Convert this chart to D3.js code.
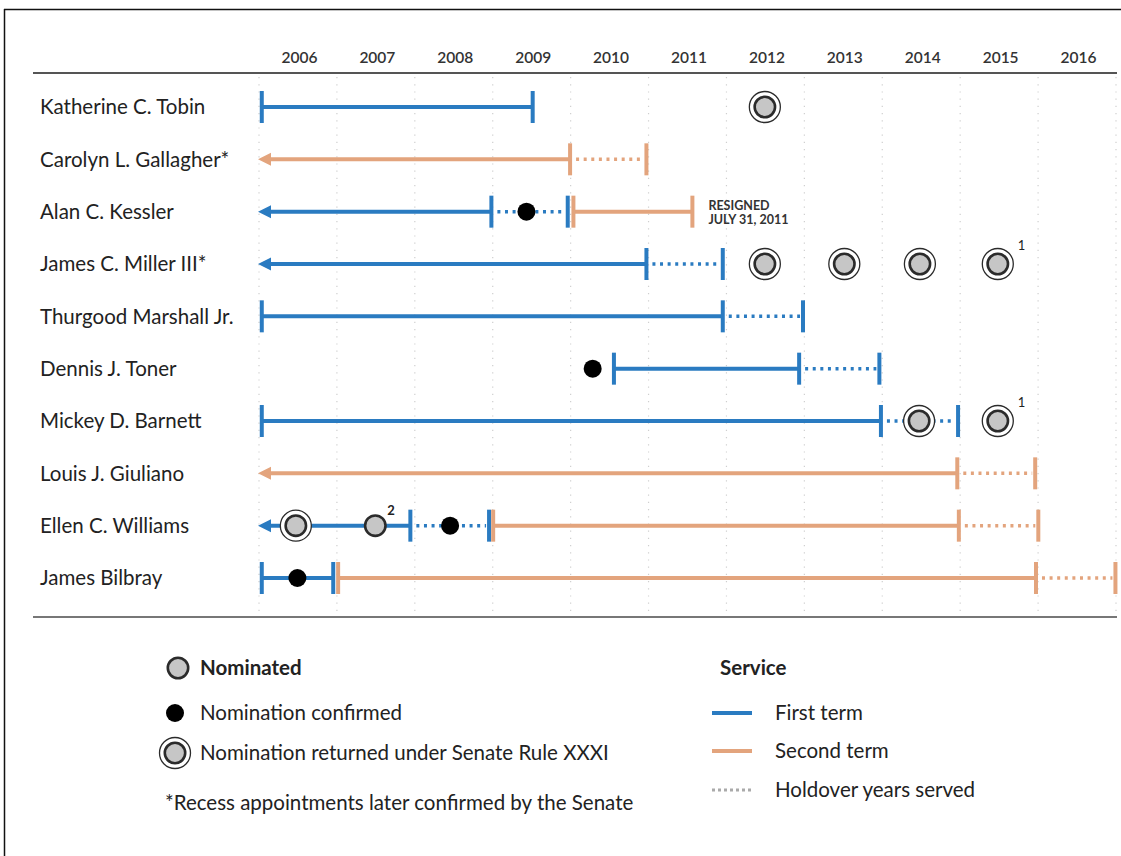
<!DOCTYPE html>
<html><head><meta charset="utf-8">
<script src="https://cdn.jsdelivr.net/npm/d3@7"></script>
<style>
html,body{margin:0;padding:0;background:#fff;}
svg{display:block;font-family:Lato, "Noto Sans", sans-serif;}
</style></head>
<body><svg id="chart" width="1121" height="856"></svg>
<script>
// ---------- data ----------
const years = [2006,2007,2008,2009,2010,2011,2012,2013,2014,2015,2016];
const names = ["Katherine C. Tobin","Carolyn L. Gallagher*","Alan C. Kessler","James C. Miller III*",
  "Thurgood Marshall Jr.","Dennis J. Toner","Mickey D. Barnett","Louis J. Giuliano",
  "Ellen C. Williams","James Bilbray"];
// [name, start, end, startsBefore2006]
const firstTerm = [
  ["Katherine C. Tobin", 2006.01, 2009.50, false],
  ["Alan C. Kessler", 2006.0, 2008.97, true],
  ["James C. Miller III*", 2006.0, 2010.96, true],
  ["Thurgood Marshall Jr.", 2006.01, 2011.94, false],
  ["Dennis J. Toner", 2010.53, 2012.92, false],
  ["Mickey D. Barnett", 2006.01, 2013.97, false],
  ["Ellen C. Williams", 2006.0, 2007.93, true],
  ["James Bilbray", 2006.01, 2006.94, false]
];
const secondTerm = [
  ["Carolyn L. Gallagher*", 2006.0, 2009.98, true],
  ["Alan C. Kessler", 2010.01, 2011.55, false],
  ["Louis J. Giuliano", 2006.0, 2014.95, true],
  ["Ellen C. Williams", 2008.98, 2014.97, false],
  ["James Bilbray", 2006.99, 2015.96, false]
];
// [name, start, end, term]
const holdover = [
  ["Carolyn L. Gallagher*", 2009.98, 2010.96, "second"],
  ["Alan C. Kessler", 2008.97, 2009.95, "first"],
  ["James C. Miller III*", 2010.96, 2011.94, "first"],
  ["Thurgood Marshall Jr.", 2011.94, 2012.97, "first"],
  ["Dennis J. Toner", 2012.92, 2013.95, "first"],
  ["Mickey D. Barnett", 2013.97, 2014.96, "first"],
  ["Louis J. Giuliano", 2014.95, 2015.95, "second"],
  ["Ellen C. Williams", 2007.93, 2008.94, "first"],
  ["Ellen C. Williams", 2014.97, 2015.99, "second"],
  ["James Bilbray", 2015.96, 2016.98, "second"]
];
const nominated = [["Ellen C. Williams", 2007.48]];
const confirmed = [
  ["Alan C. Kessler", 2009.42],
  ["Dennis J. Toner", 2010.27],
  ["Ellen C. Williams", 2008.44],
  ["James Bilbray", 2006.48]
];
const returned = [
  ["Katherine C. Tobin", 2012.48],
  ["James C. Miller III*", 2012.48],
  ["James C. Miller III*", 2013.50],
  ["James C. Miller III*", 2014.47],
  ["James C. Miller III*", 2015.47],
  ["Mickey D. Barnett", 2014.46],
  ["Mickey D. Barnett", 2015.47],
  ["Ellen C. Williams", 2006.46]
];
const footnoteMarks = [
  ["James C. Miller III*", 2015.47, "1"],
  ["Mickey D. Barnett", 2015.47, "1"],
  ["Ellen C. Williams", 2007.48, "2"]
];
const notes = [["Alan C. Kessler", 2011.55, ["RESIGNED","JULY 31, 2011"]]];
const markerLegend = ["Nominated","Nomination confirmed","Nomination returned under Senate Rule XXXI"];
const serviceLegend = ["First term","Second term","Holdover years served"];
const footnoteText = "*Recess appointments later confirmed by the Senate";

// ---------- styles ----------
const BLUE = "#2a7bc1", ORANGE = "#e3a47d", GRAYFILL = "#c6c6c6", DARK = "#2b2b2b";
const termColor = {first: BLUE, second: ORANGE};
const FS = 20.5;

const svg = d3.select("#chart");
svg.append("rect").attr("width",1121).attr("height",856).attr("fill","#fff");
// frame
svg.append("line").attr("x1",4).attr("x2",1121).attr("y1",9.5).attr("y2",9.5).attr("stroke","#111").attr("stroke-width",1.5);
svg.append("line").attr("x1",4.5).attr("x2",4.5).attr("y1",9).attr("y2",856).attr("stroke","#111").attr("stroke-width",1.5);

const x = d3.scaleLinear().domain([2006, 2017]).range([260, 1117]);
const y = d3.scalePoint().domain(names).range([107, 578]);

// gridlines
const gridYears = d3.range(2006, 2018);
svg.append("g").selectAll("line").data(gridYears).join("line")
  .attr("x1", d => x(d) - 1).attr("x2", d => x(d) - 1)
  .attr("y1", 77).attr("y2", 614)
  .attr("stroke", "#cfcfcf").attr("stroke-width", 1.2).attr("stroke-dasharray", "1.2,6");

// top axis labels
const axis = d3.axisTop(x).tickValues(years.map(v => v + 0.5)).tickFormat(v => String(Math.floor(v))).tickSize(0).tickPadding(0);
const ag = svg.append("g").attr("transform", "translate(0,63)").call(axis);
ag.select(".domain").remove();
ag.selectAll("text").attr("font-family", "Lato").attr("font-size", 15.5).attr("font-weight", 600).attr("fill", "#333").attr("dy", 0);

// rules
svg.append("line").attr("x1",33).attr("x2",1117).attr("y1",73).attr("y2",73).attr("stroke","#555").attr("stroke-width",1.8);
svg.append("line").attr("x1",33).attr("x2",1117).attr("y1",617).attr("y2",617).attr("stroke","#777").attr("stroke-width",2.2);

// names
svg.append("g").selectAll("text").data(names).join("text")
  .attr("x", 40).attr("y", d => y(d)).attr("dy", "0.35em")
  .attr("font-size", FS).attr("fill", "#222").text(d => d);

const marks = svg.append("g");
const TICK = 16, LW = 4;

function drawSolid(data, term) {
  const col = termColor[term];
  data.forEach(([n, s, e, before]) => {
    const yy = y(n);
    const xs = before ? x(s) + 8 : x(s);
    marks.append("line").attr("x1", xs).attr("x2", x(e)).attr("y1", yy).attr("y2", yy)
      .attr("stroke", col).attr("stroke-width", LW);
    if (before) {
      const tip = x(s) - 2;
      marks.append("path").attr("d", `M${tip},${yy} L${tip+13},${yy-6.5} L${tip+13},${yy+6.5} Z`).attr("fill", col);
    } else {
      marks.append("line").attr("x1", x(s)+1).attr("x2", x(s)+1).attr("y1", yy-TICK).attr("y2", yy+TICK)
        .attr("stroke", col).attr("stroke-width", 4);
    }
    marks.append("line").attr("x1", x(e)).attr("x2", x(e)).attr("y1", yy-TICK).attr("y2", yy+TICK)
      .attr("stroke", col).attr("stroke-width", 4);
  });
}
// holdover
holdover.forEach(([n, s, e, term]) => {
  const yy = y(n), col = termColor[term];
  marks.append("line").attr("x1", x(s) + 6).attr("x2", x(e) - 3).attr("y1", yy).attr("y2", yy)
    .attr("stroke", col).attr("stroke-width", 3.5).attr("stroke-dasharray", "3,4.6");
  marks.append("line").attr("x1", x(e)).attr("x2", x(e)).attr("y1", yy-TICK).attr("y2", yy+TICK)
    .attr("stroke", col).attr("stroke-width", 4);
});
drawSolid(firstTerm, "first");
drawSolid(secondTerm, "second");

function returnedMark(g, cx, cy) {
  g.append("circle").attr("cx", cx).attr("cy", cy).attr("r", 15.5).attr("fill", "#fff").attr("stroke", DARK).attr("stroke-width", 1.3);
  g.append("circle").attr("cx", cx).attr("cy", cy).attr("r", 10.2).attr("fill", GRAYFILL).attr("stroke", DARK).attr("stroke-width", 2.6);
}
function nominatedMark(g, cx, cy) {
  g.append("circle").attr("cx", cx).attr("cy", cy).attr("r", 10.2).attr("fill", GRAYFILL).attr("stroke", DARK).attr("stroke-width", 2.6);
}
function confirmedMark(g, cx, cy) {
  g.append("circle").attr("cx", cx).attr("cy", cy).attr("r", 9).attr("fill", "#000");
}
returned.forEach(([n, v]) => returnedMark(marks, x(v), y(n)));
nominated.forEach(([n, v]) => nominatedMark(marks, x(v), y(n)));
confirmed.forEach(([n, v]) => confirmedMark(marks, x(v), y(n)));

footnoteMarks.forEach(([n, v, t]) => {
  marks.append("text").attr("x", x(v) + (t === "2" ? 12 : 20)).attr("y", y(n) - (t === "2" ? 11 : 14))
    .attr("font-size", 13).attr("font-weight", t === "2" ? 700 : 400).attr("fill", "#222").text(t);
});
notes.forEach(([n, v, lines]) => {
  const t = marks.append("text").attr("x", x(v) + 16).attr("y", y(n) - 2)
    .attr("font-size", 12.5).attr("font-weight", 700).attr("fill", "#333");
  lines.forEach((l, i) => t.append("tspan").attr("x", x(v) + 16).attr("dy", i === 0 ? 0 : 14).text(l));
});

// ---------- legend ----------
const lg = svg.append("g");
const legY = [668, 713, 753];
nominatedMark(lg, 178, legY[0]);
confirmedMark(lg, 175, legY[1]);
returnedMark(lg, 175, legY[2]);
markerLegend.forEach((t, i) => {
  lg.append("text").attr("x", 200).attr("y", legY[i]).attr("dy", "0.35em")
    .attr("font-size", FS).attr("font-weight", i === 0 ? 700 : 400).attr("fill", "#222").text(t);
});
lg.append("text").attr("x", 165).attr("y", 803).attr("dy", "0.35em").attr("font-size", FS).attr("fill", "#222").text(footnoteText);

lg.append("text").attr("x", 720).attr("y", 668).attr("dy", "0.35em").attr("font-size", FS).attr("font-weight", 700).attr("fill", "#222").text("Service");
const servY = [713, 751, 790];
const servStyle = [{c: BLUE, d: null, w: 4}, {c: ORANGE, d: null, w: 4}, {c: "#aaa", d: "3,3", w: 3}];
serviceLegend.forEach((t, i) => {
  const s = servStyle[i];
  const l = lg.append("line").attr("x1", 712).attr("x2", 752).attr("y1", servY[i]).attr("y2", servY[i])
    .attr("stroke", s.c).attr("stroke-width", s.w);
  if (s.d) l.attr("stroke-dasharray", s.d);
  lg.append("text").attr("x", 775).attr("y", servY[i]).attr("dy", "0.35em")
    .attr("font-size", FS).attr("fill", "#222").text(t);
});
</script></body></html>
